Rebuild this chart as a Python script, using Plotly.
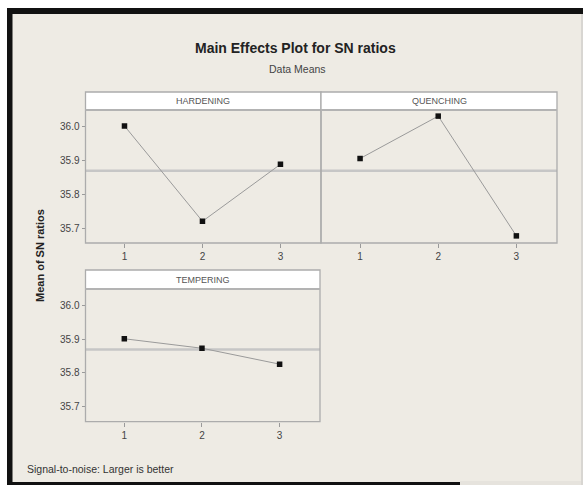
import plotly.graph_objects as go

W, H = 583, 485

# ---- data ----
levels = [1, 2, 3]
level_labels = ["1", "2", "3"]
factors = ["HARDENING", "QUENCHING", "TEMPERING"]
hardening = [36.001, 35.720, 35.888]
quenching = [35.905, 36.030, 35.677]
tempering = [35.901, 35.873, 35.826]
y_ticks = [35.7, 35.8, 35.9, 36.0]
title = "Main Effects Plot for SN ratios"
subtitle = "Data Means"
y_title = "Mean of SN ratios"
footnote = "Signal-to-noise: Larger is better"

series = [hardening, quenching, tempering]
all_vals = hardening + quenching + tempering
grand_mean = sum(all_vals) / len(all_vals)

FONT = "Liberation Sans, Arial, sans-serif"
BG = "#eeebe4"
BORDER = "#acacac"

def px(x):
    return x / W

def py(y):
    return 1 - y / H

# panel layout in pixels: (left, right, strip_top, plot_top, plot_bottom)
panels = [
    (85.5, 321.0, 92.0, 110.0, 243.0),
    (321.0, 557.0, 92.0, 110.0, 243.0),
    (85.5, 320.0, 270.0, 289.0, 421.7),
]

fig = go.Figure()
shapes = []
annotations = []

# background frame
shapes.append(dict(type="rect", xref="paper", yref="paper", x0=px(7), x1=px(583), y0=py(485), y1=py(8),
                   fillcolor="#111111", line=dict(width=0), layer="below"))
shapes.append(dict(type="rect", xref="paper", yref="paper", x0=px(12.5), x1=px(581), y0=py(482), y1=py(14),
                   fillcolor=BG, line=dict(width=0), layer="below"))
shapes.append(dict(type="rect", xref="paper", yref="paper", x0=px(460), x1=px(583), y0=py(485), y1=py(481),
                   fillcolor="#e6e3dd", line=dict(width=0), layer="below"))
shapes.append(dict(type="rect", xref="paper", yref="paper", x0=px(581), x1=px(583), y0=py(485), y1=py(14),
                   fillcolor="#d8d6d2", line=dict(width=0), layer="below"))

for i, (name, vals, (l, r, st, pt, pb)) in enumerate(zip(factors, series, panels)):
    n = "" if i == 0 else str(i + 1)
    xa = "x" + n
    ya = "y" + n
    fig.add_trace(go.Scatter(
        x=levels, y=vals, xaxis=xa, yaxis=ya, mode="lines+markers",
        line=dict(color="#9a9a9a", width=1),
        marker=dict(symbol="square", size=5.5, color="#111111"),
        showlegend=False, hoverinfo="skip",
    ))
    show_y = i != 1
    fig.update_layout(**{
        "xaxis" + n: dict(
            domain=[px(l), px(r)], anchor=ya, range=[0.5, 3.52],
            tickvals=levels, ticktext=level_labels, ticks="outside", ticklen=4,
            tickcolor="#9a9a9a", tickwidth=1, showgrid=False, zeroline=False,
            showline=False,
            tickfont=dict(family=FONT, size=10, color="#444444"), fixedrange=True,
        ),
        "yaxis" + n: dict(
            domain=[py(pb), py(pt)], anchor=xa, range=[35.656, 36.048],
            tickvals=y_ticks if show_y else [], ticktext=[f"{v:.1f}" for v in y_ticks] if show_y else [],
            ticks="outside" if show_y else "", ticklen=3,
            tickcolor="#9a9a9a", showgrid=False, zeroline=False,
            showline=False,
            tickfont=dict(family=FONT, size=10, color="#444444"), fixedrange=True,
        ),
    })
    # mean reference line
    shapes.append(dict(type="line", xref=xa + " domain", yref=ya, x0=0, x1=1,
                       y0=grand_mean, y1=grand_mean,
                       line=dict(color="#c6c6c6", width=2.5), layer="below"))
    # strip
    shapes.append(dict(type="rect", xref="paper", yref="paper", x0=px(l), x1=px(r),
                       y0=py(pt), y1=py(st), fillcolor="white",
                       line=dict(width=0)))
    # panel border
    shapes.append(dict(type="rect", xref="paper", yref="paper", x0=px(l), x1=px(r),
                       y0=py(pb), y1=py(st), fillcolor="rgba(0,0,0,0)",
                       line=dict(color=BORDER, width=1.3)))
    shapes.append(dict(type="line", xref="paper", yref="paper", x0=px(l), x1=px(r),
                       y0=py(pt), y1=py(pt), line=dict(color="#b3b3b3", width=2.2)))
    annotations.append(dict(xref="paper", yref="paper", x=px((l + r) / 2), y=py((st + pt) / 2),
                            text=name, showarrow=False, xanchor="center", yanchor="middle",
                            font=dict(family=FONT, size=9, color="#555555")))

annotations += [
    dict(xref="paper", yref="paper", x=px(295), y=py(48), text="<b>" + title + "</b>",
         showarrow=False, xanchor="center", yanchor="middle",
         font=dict(family=FONT, size=14, color="#222222")),
    dict(xref="paper", yref="paper", x=px(297), y=py(69), text=subtitle,
         showarrow=False, xanchor="center", yanchor="middle",
         font=dict(family=FONT, size=10.5, color="#444444")),
    dict(xref="paper", yref="paper", x=px(40), y=py(256), text="<b>" + y_title + "</b>",
         textangle=-90, showarrow=False, xanchor="center", yanchor="middle",
         font=dict(family=FONT, size=11, color="#222222")),
    dict(xref="paper", yref="paper", x=px(25), y=py(469), text=footnote,
         showarrow=False, xanchor="left", yanchor="middle",
         font=dict(family=FONT, size=10.5, color="#333333")),
]

fig.update_layout(
    width=W, height=H, margin=dict(l=0, r=0, t=0, b=0),
    paper_bgcolor="white", plot_bgcolor="white",
    shapes=shapes, annotations=annotations, showlegend=False,
)

fig.write_html("out.html", config={"displayModeBar": False})
